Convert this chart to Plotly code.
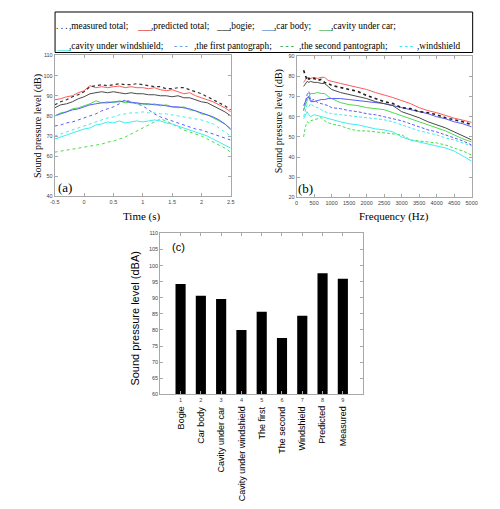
import plotly.graph_objects as go

# ---------------- data: panel (a) time history ----------------
time_s = [-0.5, -0.4, -0.3, -0.2, -0.1, 0.0, 0.1, 0.2, 0.3, 0.4, 0.5, 0.6, 0.7, 0.8, 0.9, 1.0,
          1.1, 1.2, 1.3, 1.4, 1.5, 1.6, 1.7, 1.8, 1.9, 2.0, 2.1, 2.2, 2.3, 2.4, 2.5]
a_predicted = [88, 88.5, 89.5, 90, 91.5, 92.5, 95, 94, 94.5, 94, 94.5, 94.8, 94, 94.5, 94, 94,
               93.5, 94, 93, 92.5, 93, 92, 91, 91.5, 90, 89, 88, 87, 85.5, 84, 82]
a_measured = [85.5, 87, 88, 89.5, 90.5, 92, 94.5, 95, 95.5, 95, 95.5, 96, 95.5, 95.5, 96, 95.5,
              95, 94.5, 94.5, 93.5, 93.5, 94, 94, 93, 92, 91, 89.5, 88, 86.5, 85, 83]
a_bogie = [84, 85.5, 86, 87, 88.5, 89.5, 91, 91.5, 92, 91.5, 92, 91.5, 91, 91.5, 91, 91,
           90.5, 90.5, 90, 90, 89.5, 90, 89, 89, 88, 87, 86.5, 85, 83.5, 82, 80]
a_car_body = [80, 81, 82, 83, 83.5, 84.5, 85.5, 86, 86.5, 86.5, 87, 87, 87.5, 86.5, 86.5, 86,
              86, 85.5, 85.5, 85, 84.5, 84.5, 84, 83.5, 82.5, 81.5, 80.5, 79.5, 78, 76, 73.5]
a_cav_car = [80, 81.5, 82, 83.5, 84, 85, 86, 87.5, 86.5, 87, 86.5, 87.5, 86.5, 87, 86, 86,
             85.5, 86, 85, 85.5, 84.5, 84, 84.5, 83, 82.5, 81, 80.5, 79, 77.5, 76, 73]
a_cav_wind = [68.5, 69.5, 70.5, 71.5, 72.5, 73.5, 74, 75.5, 76, 77, 76.5, 77.5, 76.5, 77, 77.5, 77,
              77.5, 78, 77.5, 76.5, 76, 75, 74, 73, 72, 71, 70, 68.5, 67, 65.5, 64]
a_panto1 = [75, 75.5, 76.5, 77, 78, 79, 80, 81, 82.5, 83.5, 84.5, 86, 88, 87, 86, 85,
            83, 81, 79.5, 78.5, 77.5, 76.5, 75.5, 74.5, 73.5, 73, 72, 71, 70, 69, 68]
a_panto2 = [62, 62.5, 63, 63.5, 64, 64.5, 65, 65.5, 66, 67, 67.5, 68.5, 69.5, 71, 72.5, 74,
            75.5, 77, 78.5, 77.5, 76, 74.5, 73, 72, 71, 70, 68.5, 67, 65.5, 64, 62]
a_windshield = [70, 71, 72, 73, 74, 75, 76, 77, 78, 79, 79.5, 80.5, 81, 81.5, 81.5, 82,
                81.5, 81.5, 81, 81, 80.5, 80, 79.5, 79, 78.5, 78, 77, 76, 74, 72, 70]

# ---------------- data: panel (b) spectra ----------------
freq_hz = [200, 250, 300, 350, 400, 500, 600, 700, 800, 900, 1000, 1250, 1500, 1750, 2000,
           2250, 2500, 2750, 3000, 3250, 3500, 3750, 4000, 4250, 4500, 4750, 5000]
b_predicted = [77, 78.5, 79.5, 79, 79, 79.5, 79, 79.5, 79.5, 78, 77.5, 76.5, 75.5, 74.5, 73.5,
               72, 70.8, 69.5, 68, 66.5, 64.5, 63, 62, 60.5, 59.3, 58.3, 57.2]
b_measured = [83, 80, 78, 79, 78.5, 79, 78, 78.5, 77, 76.5, 75.5, 74.5, 73.5, 72.5, 70.5,
              69, 67.5, 66.5, 64.5, 64, 62.5, 62, 61, 59.5, 58.5, 57.5, 56]
b_bogie = [75, 76.5, 77.5, 77, 77.5, 77, 77, 76.5, 76.5, 75, 73.5, 72, 71, 70, 69,
           67.5, 66.5, 65.5, 62.5, 61, 59.5, 57.5, 56, 54.5, 52.5, 50.5, 48.5]
b_car_body = [65.5, 68, 69.5, 70, 67.5, 67.5, 68, 68.5, 68.5, 69, 69, 69, 68.5, 68, 67.5,
              67, 66.5, 65.5, 64.5, 63.5, 62.5, 61.5, 60, 59, 57.5, 56.5, 55]
b_cav_car = [63.5, 66, 68, 70, 71.5, 71.5, 72, 71.5, 71.5, 70, 69, 67, 66, 65.5, 64.5,
             64, 63.5, 62, 60.5, 59, 57.5, 56, 54.5, 53, 51, 49, 47.5]
b_cav_wind = [59, 61, 62.5, 61, 60, 61, 60.5, 60, 59.5, 59, 58.5, 57.5, 56.5, 56, 55,
              54, 53.5, 52.5, 50, 48.5, 47.5, 46.5, 45.5, 44.5, 43, 40.5, 38]
b_panto1 = [63, 67, 71, 72.5, 68, 68.5, 67, 66.5, 66, 65.5, 64.5, 64, 63, 62.5, 61.5,
            61, 60, 59, 58, 56.5, 55, 53.5, 52.5, 51, 49.5, 48, 46]
b_panto2 = [50, 55, 57.5, 57, 58, 58.5, 59, 59.5, 58, 57, 56.5, 55.5, 54, 53, 53,
            52.5, 52, 51.5, 51, 48.5, 48, 47.5, 47, 46, 44.5, 43, 41]
b_windshield = [60, 63, 66, 65, 66.5, 65, 64.5, 63.5, 62.5, 62, 61.5, 61, 60.5, 60, 59.5,
                59, 58.5, 57.5, 56, 54.5, 53, 52, 51, 49.5, 48.5, 47, 45.5]

# ---------------- data: panel (c) overall levels ----------------
c_index = [1, 2, 3, 4, 5, 6, 7, 8, 9]
c_names = ["Bogie", "Car body", "Cavity under car", "Cavity under windshield",
           "The first", "The second", "Windshield", "Predicted", "Measured"]
c_levels = [94.3, 90.6, 89.6, 80.0, 85.7, 77.5, 84.4, 97.6, 95.9]

# tick labels
a_xticks = [-0.5, 0, 0.5, 1, 1.5, 2, 2.5]
a_xticktext = ["-0.5", "0", "0.5", "1", "1.5", "2", "2.5"]
a_yticks = [40, 50, 60, 70, 80, 90, 100, 110]
b_xticks = [0, 500, 1000, 1500, 2000, 2500, 3000, 3500, 4000, 4500, 5000]
b_yticks = [20, 30, 40, 50, 60, 70, 80, 90]
c_yticks = [60, 65, 70, 75, 80, 85, 90, 95, 100, 105, 110]

W, H = 500, 509
def px(x):
    return x / W
def py(y):
    return 1 - y / H

RED = "#ff5a5a"
BLK = "#4a4a4a"
BLU = "#5a5aff"
GRN = "#4cdc4c"
CYN = "#40ecec"

fig = go.Figure()

def add_line(x, y, color, dash, xa, ya, width=1.0):
    fig.add_trace(go.Scatter(x=x, y=y, mode="lines", xaxis=xa, yaxis=ya,
                             line=dict(color=color, dash=dash, width=width),
                             hoverinfo="skip"))

# panel (a)
add_line(time_s, a_panto2, GRN, "dot", "x", "y")
add_line(time_s, a_cav_wind, CYN, "solid", "x", "y")
add_line(time_s, a_windshield, CYN, "dot", "x", "y")
add_line(time_s, a_panto1, BLU, "dot", "x", "y")
add_line(time_s, a_cav_car, GRN, "solid", "x", "y")
add_line(time_s, a_car_body, BLU, "solid", "x", "y")
add_line(time_s, a_bogie, BLK, "solid", "x", "y")
add_line(time_s, a_predicted, RED, "solid", "x", "y")
add_line(time_s, a_measured, "#303030", "dot", "x", "y", 1.2)

# panel (b)
add_line(freq_hz, b_panto2, GRN, "3px,2px", "x2", "y2")
add_line(freq_hz, b_cav_wind, CYN, "solid", "x2", "y2")
add_line(freq_hz, b_windshield, CYN, "3px,2px", "x2", "y2")
add_line(freq_hz, b_panto1, BLU, "3px,2px", "x2", "y2")
add_line(freq_hz, b_cav_car, GRN, "solid", "x2", "y2")
add_line(freq_hz, b_car_body, BLU, "solid", "x2", "y2")
add_line(freq_hz, b_bogie, BLK, "solid", "x2", "y2")
add_line(freq_hz, b_predicted, RED, "solid", "x2", "y2")
add_line(freq_hz, b_measured, "#202020", "dot", "x2", "y2", 1.6)

# panel (c)
fig.add_trace(go.Bar(x=c_index, y=c_levels, xaxis="x3", yaxis="y3", width=0.5,
                     marker=dict(color="black", line=dict(width=0)), hoverinfo="skip"))

axis_common = dict(showgrid=False, zeroline=False, showline=True, linecolor="#a8a8a8",
                   linewidth=1, mirror="ticks", ticks="inside", ticklen=3,
                   tickcolor="#a8a8a8", tickfont=dict(size=5.5, color="#444",
                                                      family="Liberation Sans"))

fig.update_layout(
    width=W, height=H, margin=dict(l=0, r=0, t=0, b=0),
    paper_bgcolor="white", plot_bgcolor="white", showlegend=False,
    xaxis=dict(domain=[px(42.7), px(222.7)], anchor="y", range=[-0.5, 2.5],
               tickvals=a_xticks, ticktext=a_xticktext, **axis_common),
    yaxis=dict(domain=[py(187.7), py(45)], anchor="x", range=[40, 110],
               tickvals=a_yticks, **axis_common),
    xaxis2=dict(domain=[px(290), px(469)], anchor="y2", range=[0, 5000],
                tickvals=b_xticks, **axis_common),
    yaxis2=dict(domain=[py(188.7), py(45.7)], anchor="x2", range=[20, 90],
                tickvals=b_yticks, **axis_common),
    xaxis3=dict(domain=[px(150.6), px(358)], anchor="y3", range=[0, 10],
                tickvals=c_index, **axis_common),
    yaxis3=dict(domain=[py(388), py(225)], anchor="x3", range=[60, 110],
                tickvals=c_yticks, **axis_common),
)

SERIF = "Liberation Serif"
SANS = "Liberation Sans"
ann = []
def text(x, y, s, size, family=SERIF, color="black", xanchor="center", yanchor="middle",
         angle=0, xref="paper", pad=1):
    ann.append(dict(x=x, y=y, xref=xref, yref="paper", text=s, showarrow=False,
                    xanchor=xanchor, yanchor=yanchor, textangle=angle, borderpad=pad,
                    font=dict(size=size, family=family, color=color)))

# axis titles
text(px(132), py(208), "Time (s)", 11)
text(px(390), py(208), "Frequency (Hz)", 11)
text(px(25), py(116), "Sound pressure level (dB)", 10, angle=-90)
text(px(271.5), py(112), "Sound pressure level (dB)", 10, angle=-90)
text(px(125), py(311), "Sound pressure level (dBA)", 11, family=SANS, angle=-90)
# panel labels
text(px(44), py(179), "(a)", 13, xanchor="left")
text(px(289), py(180), "(b)", 13, xanchor="left")
text(px(161), py(239), "(c)", 11, family=SANS, xanchor="left")
# bar category names
for i, name in zip(c_index, c_names):
    text(i, py(398), name, 9, family=SANS, yanchor="top", angle=-90, xref="x3")

# legend (text-style, as in the original)
LG = 9.3
row1 = [(43, ". . .", "black"), (56, ",measured total;", "black"),
        (126, "___", "#e00000"), (140, ",predicted total;", "black"),
        (207, "___", "black"), (220, ",bogie;", "black"),
        (253, "___", "#1f6fbf"), (266, ",car body;", "black"),
        (311, "___", "#10a030"), (324, ",cavity under car;", "black")]
row2 = [(43, "___", "#00dede"), (56, ",cavity under windshield;", "black"),
        (164, "- - -", "#4a90d9"), (184, ",the first pantograph;", "black"),
        (272, "- - -", "#10a030"), (291, ",the second pantograph;", "black"),
        (394, "- - -", "#00e6f0"), (412, ",windshield", "black")]
for xx, s, c in row1:
    text(px(xx), py(15), s, LG, color=c, xanchor="left", pad=0)
for xx, s, c in row2:
    text(px(xx), py(35), s, LG, color=c, xanchor="left", pad=0)

fig.update_layout(annotations=ann)
fig.add_shape(type="rect", xref="paper", yref="paper", x0=px(43), x1=px(470),
              y0=py(42), y1=py(1), line=dict(color="black", width=1))

fig.write_html("out.html")
